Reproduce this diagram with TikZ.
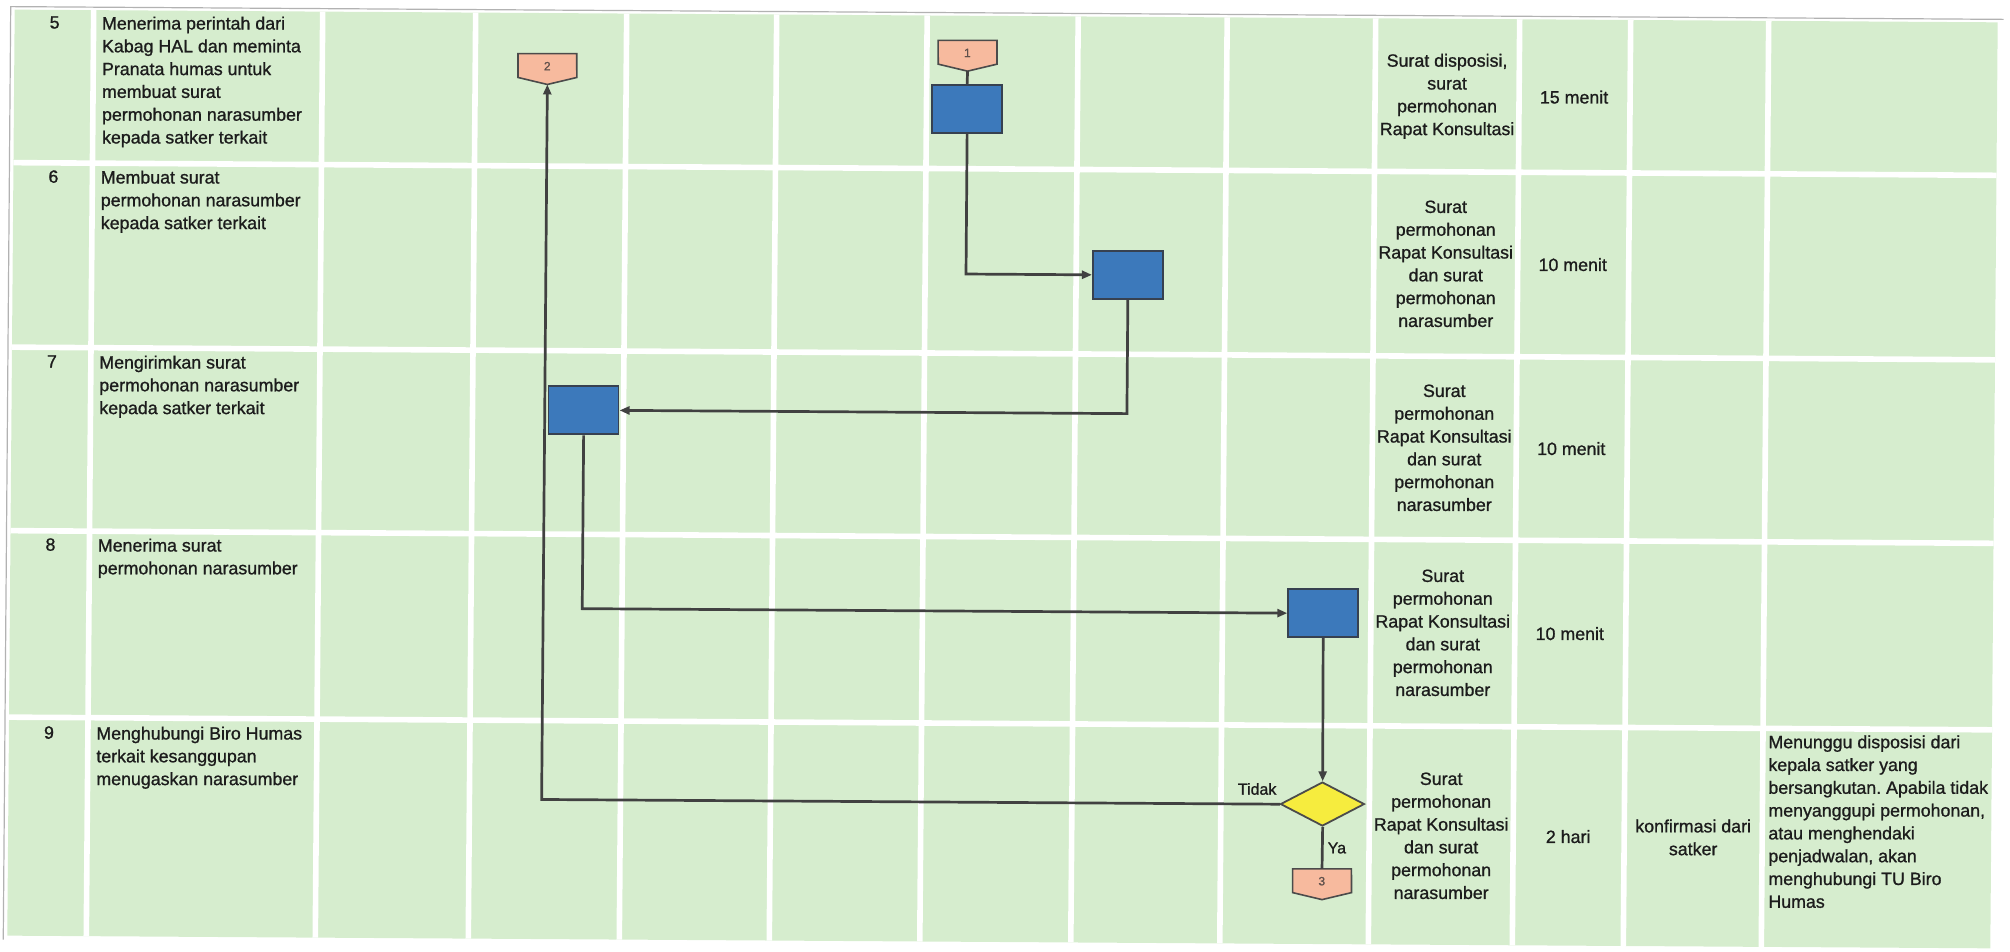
\documentclass[tikz,border=0pt]{standalone}
\usepackage{fontspec}
\setmainfont[FakeBold=1.0]{Liberation Sans}
\usetikzlibrary{arrows.meta,shapes.geometric}
\frenchspacing

\pgfdeclarelayer{grid}
\pgfdeclarelayer{tags}
\pgfsetlayers{grid,tags,main}

\definecolor{cellgreen}{RGB}{214,237,206}
\definecolor{boxblue}{RGB}{60,121,187}
\definecolor{boxedge}{RGB}{55,65,80}
\definecolor{tagfill}{RGB}{247,186,158}
\definecolor{decfill}{RGB}{246,236,62}
\definecolor{shapeedge}{RGB}{75,75,75}
\definecolor{flowgray}{RGB}{65,65,65}
\definecolor{ink}{RGB}{28,28,28}
\definecolor{tagink}{RGB}{95,80,75}

\newcommand\cellfont{\fontsize{8.9pt}{11.4pt}\selectfont}
\newcommand\brfont{\fontsize{8pt}{9.6pt}\selectfont}
\newcommand\offpagefont{\fontsize{6pt}{7pt}\selectfont}

\begin{document}
\begin{tikzpicture}[x=0.5pt,y=-0.5pt,
  gridline/.style={white, line width=2.8pt},
  frameedge/.style={draw=black!30, line width=0.6pt},
  numtext/.style={font=\cellfont, text=ink, inner sep=0pt, anchor=north},
  tasktext/.style={font=\cellfont, text=ink, inner sep=0pt, anchor=north west, align=left},
  celltext/.style={font=\cellfont, text=ink, inner sep=0pt, align=center},
  procbox/.style={draw=boxedge, fill=boxblue, line width=0.9pt, minimum width=35pt, minimum height=24pt, inner sep=0pt},
  offpage/.style={minimum width=29pt, minimum height=15pt, inner sep=0pt, font=\offpagefont, text=tagink, text height=4.3pt, text depth=3pt},
  tagshape/.style={draw=shapeedge, fill=tagfill, line width=0.8pt, line join=miter},
  decision/.style={diamond, draw=shapeedge, fill=decfill, line width=0.9pt, minimum width=42pt, minimum height=22pt, inner sep=0pt},
  flow/.style={draw=flowgray, line width=1.35pt},
  arr/.style={flow, -{Triangle[length=5pt,width=4pt]}},
  branch/.style={font=\brfont, text=ink, inner sep=0pt}]

\useasboundingbox (0,0) rectangle (2010,952);

% the sheet sits very slightly skewed on the page
\begin{scope}[cm={1,-0.0064,0.008,1,(1.912pt,3.21pt)}]

  % table: green cells separated by white rules
  \begin{pgfonlayer}{grid}
    \fill[cellgreen] (11,16) rectangle (1994,942);
    \foreach \x in {90,319,472,623,773,923.5,1074.5,1223.5,1372,1516,1627,1765}
      \draw[gridline] (\x,16) -- (\x,942);
    \foreach \y in {169,353.5,537,723.5}
      \draw[gridline] (11,\y) -- (1994,\y);
    \draw[frameedge] (7,946) -- (7,13) -- (2000,13);
  \end{pgfonlayer}

  % step numbers
  \node[numtext] (n5) at (51,22) {5};
  \node[numtext] (n6) at (51,176) {6};
  \node[numtext] (n7) at (51,361) {7};
  \node[numtext] (n8) at (51,544) {8};
  \node[numtext] (n9) at (51,732) {9};

  % activities
  \node[tasktext] (t5) at (98,22) {Menerima perintah dari\\Kabag HAL dan meminta\\Pranata humas untuk\\membuat surat\\permohonan narasumber\\kepada satker terkait};
  \node[tasktext] (t6) at (98,176) {Membuat surat\\permohonan narasumber\\kepada satker terkait};
  \node[tasktext] (t7) at (98,361) {Mengirimkan surat\\permohonan narasumber\\kepada satker terkait};
  \node[tasktext] (t8) at (98,544) {Menerima surat\\permohonan narasumber};
  \node[tasktext] (t9) at (98,732) {Menghubungi Biro Humas\\terkait kesanggupan\\menugaskan narasumber};

  % documents
  \node[celltext] (d5) at (1444,93.5) {Surat disposisi,\\surat\\permohonan\\Rapat Konsultasi};
  \node[celltext] (d6) at (1444,261) {Surat\\permohonan\\Rapat Konsultasi\\dan surat\\permohonan\\narasumber};
  \node[celltext] (d7) at (1444,445) {Surat\\permohonan\\Rapat Konsultasi\\dan surat\\permohonan\\narasumber};
  \node[celltext] (d8) at (1444,630) {Surat\\permohonan\\Rapat Konsultasi\\dan surat\\permohonan\\narasumber};
  \node[celltext] (d9) at (1444,833) {Surat\\permohonan\\Rapat Konsultasi\\dan surat\\permohonan\\narasumber};

  % durations
  \node[celltext] (w5) at (1571,93.5) {15 menit};
  \node[celltext] (w6) at (1571,261) {10 menit};
  \node[celltext] (w7) at (1571,445) {10 menit};
  \node[celltext] (w8) at (1571,630) {10 menit};
  \node[celltext] (w9) at (1571,833) {2 hari};

  % output and notes
  \node[celltext] (o9) at (1696,833) {konfirmasi dari\\satker};
  \node[tasktext] (k9) at (1770,730) {Menunggu disposisi dari\\kepala satker yang\\bersangkutan. Apabila tidak\\menyanggupi permohonan,\\atau menghendaki\\penjadwalan, akan\\menghubungi TU Biro\\Humas};

  % flow shapes
  \node[offpage] (c1) at (964,56) {1};
  \node[procbox] (pA) at (964,109) {};
  \node[procbox] (pB) at (1126,274) {};
  \node[procbox] (pC) at (583,413) {};
  \node[procbox] (pD) at (1324,611) {};
  \node[decision] (q9) at (1325,802) {};
  \node[offpage] (c3) at (1325,882) {3};
  \node[offpage] (c2) at (544,72) {2};

  % off-page connector outlines
  \begin{pgfonlayer}{tags}
    \foreach \c in {c1,c2,c3}
      \draw[tagshape] (\c.north west) -- (\c.north east) -- ([yshift=3.5pt]\c.south east)
        -- (\c.south) -- ([yshift=3.5pt]\c.south west) -- cycle;
  \end{pgfonlayer}

  % connectors
  \draw[flow] (c1.south) -- (pA.north);
  \draw[arr] (pA.south) |- (pB.west);
  \draw[arr] (pB.south) |- (pC.east);
  \draw[arr] (pC.south) |- (pD.west);
  \draw[arr] (pD.south) -- (q9.north);
  \draw[arr] (q9.west) -| node[branch, at start, anchor=south east, xshift=-1pt, yshift=4pt] {Tidak} (c2.south);
  \draw[flow] (q9.south) -- node[branch, anchor=west, xshift=2pt] {Ya} (c3.north);

\end{scope}
\end{tikzpicture}
\end{document}
